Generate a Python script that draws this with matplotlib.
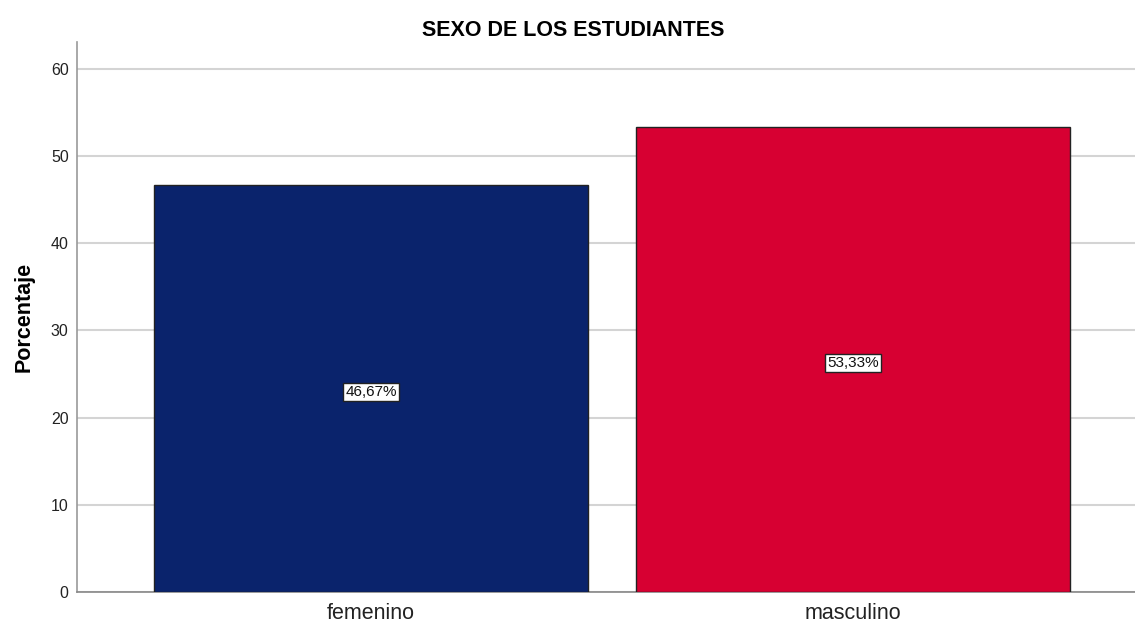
import matplotlib
matplotlib.use("Agg")
import matplotlib.pyplot as plt

categories = ["femenino", "masculino"]
values = [46.67, 53.33]
labels = ["46,67%", "53,33%"]
colors = ["#0a236c", "#d70032"]
yticks = [0, 10, 20, 30, 40, 50, 60]

plt.rcParams['font.family'] = ['Liberation Sans', 'DejaVu Sans']
fig = plt.figure(figsize=(11.35, 6.24), dpi=100)
ax = fig.add_axes([77/1135, 1-592/624, 1-77/1135, 550/624])

x = list(range(len(categories)))
ax.bar(x, values, width=0.9, color=colors, edgecolor="#222222", linewidth=1.0, zorder=3)
for xi, v, lab in zip(x, values, labels):
    ax.annotate(lab, xy=(xi, v/2), xytext=(0, -2.5), textcoords="offset points",
                ha="center", va="center", fontsize=11, zorder=4, color="#111111",
                bbox=dict(boxstyle="square,pad=0.12", facecolor="white", edgecolor="#222222", linewidth=1.0))

ax.set_xlim(-0.61, 1.585)
ax.set_ylim(0, 63.07)
ax.set_yticks(yticks)
ax.set_xticks(x)
ax.set_xticklabels(categories, fontsize=15.5, color="#222222")
ax.tick_params(axis="y", length=0, labelsize=11.5, pad=6, labelcolor="#222222")
ax.tick_params(axis="x", length=0, pad=8)
ax.grid(axis="y", color="#d4d4d4", linewidth=1.5, zorder=0)
for s in ["top", "right"]:
    ax.spines[s].set_visible(False)
ax.spines["left"].set_color("#999999")
ax.spines["bottom"].set_color("#888888")
ax.spines["left"].set_linewidth(1.2)
ax.spines["bottom"].set_linewidth(1.2)
ax.set_ylabel("Porcentaje", fontsize=15.5, fontweight="bold", labelpad=12)
fig.text(573/1135, 1-31/624, "SEXO DE LOS ESTUDIANTES", ha="center", va="center",
         fontsize=15.5, fontweight="bold")

fig.savefig("out.png", dpi=100)
